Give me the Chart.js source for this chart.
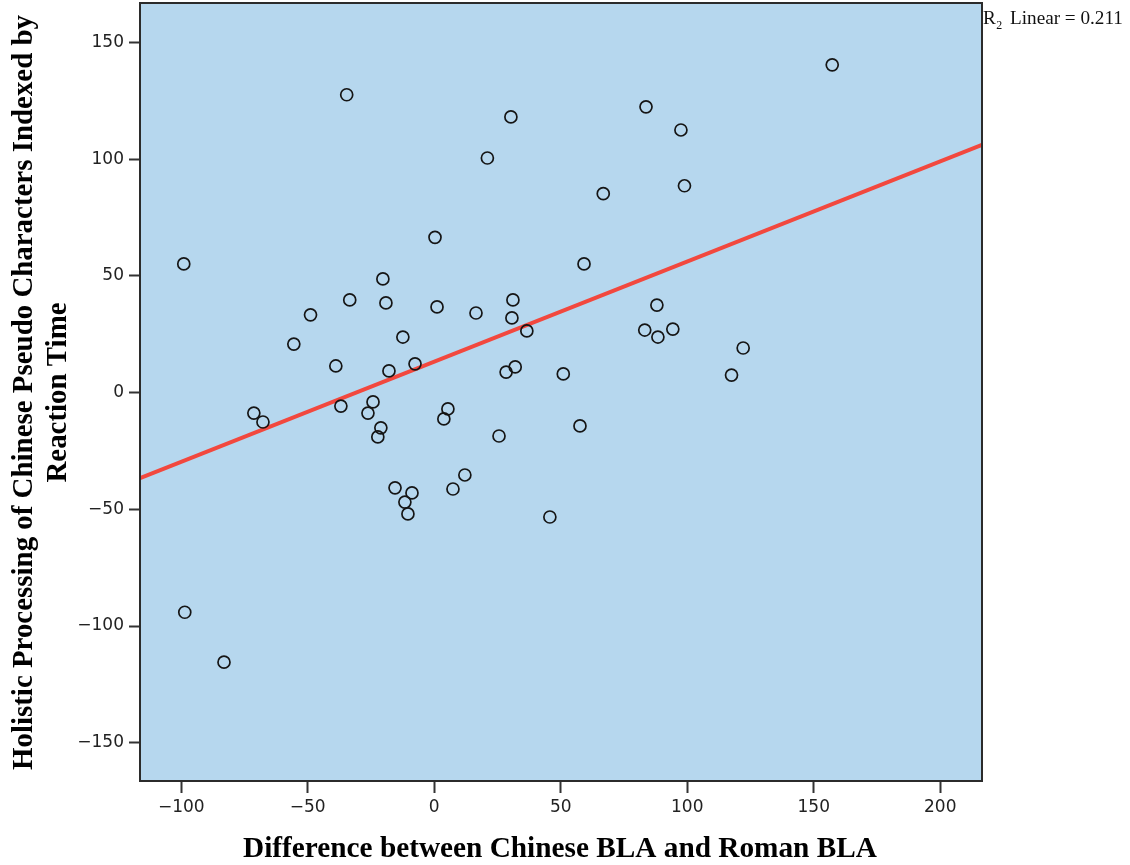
<!DOCTYPE html>
<html>
<head>
<meta charset="utf-8">
<script src="https://cdn.jsdelivr.net/npm/chart.js@4.4.1/dist/chart.umd.min.js"></script>
<style>
  html, body { margin: 0; padding: 0; background: #ffffff; }
  #wrap { width: 1130px; height: 865px; position: relative; }
  canvas { display: block; }
</style>
</head>
<body>
<div id="wrap"><canvas id="c" width="1130" height="865"></canvas></div>
<script>
// ---- Data ----
const xValues = [157.3, -34.6, 30.3, 83.7, 97.5, 21.0, 66.8, 98.9, 0.3, -99.0,
  59.2, -20.3, -33.4, -19.1, 31.1, 88.0, -48.9, 1.1, 16.5, 30.7,
  36.6, 83.2, 94.3, 88.4, -12.4, -55.5, 122.1, -38.9, -7.6, -17.9,
  32.0, 28.4, 51.0, 117.5, -36.9, -24.2, -71.3, -67.7, -26.2, 5.4,
  3.8, -21.1, -22.3, 25.6, 57.6, -15.5, -8.8, 12.1, 7.4, -11.6,
  -10.4, 45.7, -98.6, -83.1];
const yValues = [140.4, 127.6, 118.1, 122.4, 112.5, 100.5, 85.2, 88.6, 66.5, 55.1,
  55.1, 48.7, 39.7, 38.4, 39.7, 37.5, 33.3, 36.7, 34.1, 32.0,
  26.4, 26.8, 27.2, 23.8, 23.8, 20.8, 19.1, 11.4, 12.3, 9.3,
  11.0, 8.8, 8.0, 7.5, -5.8, -4.0, -8.8, -12.6, -8.8, -7.0,
  -11.3, -15.1, -19.0, -18.6, -14.3, -40.8, -43.0, -35.3, -41.3, -46.9,
  -52.0, -53.3, -94.1, -115.5];
const fitSlope = 0.429;
const fitIntercept = 13.2;
const xTicks = [-100, -50, 0, 50, 100, 150, 200];
const yTicks = [-150, -100, -50, 0, 50, 100, 150];
const xRange = [-116.3, 216.5];
const yRange = [-166.4, 166.9];
const xTitle = 'Difference between Chinese BLA and Roman BLA';
const yTitleLines = ['Holistic Processing of Chinese Pseudo Characters Indexed by', 'Reaction Time'];
const rsqLabel = '0.211';

// ---- Build datasets ----
const points = xValues.map((x, i) => ({ x: x, y: yValues[i] }));
const fitLine = xRange.map(x => ({ x: x, y: fitIntercept + fitSlope * x }));

const fmt = v => String(v).replace('-', '\u2212');
const serif = '"Liberation Serif", "Times New Roman", serif';

// draw text fitted to a target width, stretched vertically to a target cap height
function fittedText(ctx, text, cx, baseline, targetW, capH) {
  ctx.font = 'bold 100px ' + serif;
  const w = ctx.measureText(text).width;
  const fs = 100 * targetW / w;
  const sy = capH / (fs * 0.662);
  ctx.font = 'bold ' + fs.toFixed(2) + 'px ' + serif;
  ctx.save();
  ctx.translate(cx, baseline);
  ctx.scale(1, sy);
  ctx.fillText(text, 0, 0);
  ctx.restore();
  return { font: ctx.font, sy: sy };
}

const decor = {
  id: 'decor',
  beforeDraw(chart) {
    const { ctx, chartArea: a } = chart;
    ctx.save();
    ctx.fillStyle = 'rgb(182,215,238)';
    ctx.fillRect(a.left, a.top, a.right - a.left, a.bottom - a.top);
    ctx.restore();
  },
  afterDatasetsDraw(chart) {
    const { ctx, chartArea: a } = chart;
    ctx.save();
    ctx.strokeStyle = '#2b2b2b';
    ctx.lineWidth = 2;
    ctx.strokeRect(a.left, a.top, a.right - a.left, a.bottom - a.top);
    ctx.restore();
  },
  afterDraw(chart) {
    const { ctx, chartArea: a } = chart;
    ctx.save();
    ctx.fillStyle = '#000';
    ctx.textAlign = 'center';
    ctx.textBaseline = 'alphabetic';
    // X title
    fittedText(ctx, xTitle, 560, 857, 634, 20);

    // Y title (rotated)
    ctx.save();
    ctx.translate(0, 392.5);
    ctx.rotate(-Math.PI / 2);
    const r = fittedText(ctx, yTitleLines[0], 0, 32, 755, 20);
    ctx.font = r.font;
    ctx.save();
    ctx.translate(0, 66);
    ctx.scale(1, r.sy);
    ctx.fillText(yTitleLines[1], 0, 0);
    ctx.restore();
    ctx.restore();
    ctx.restore();

    // R squared annotation
    ctx.save();
    ctx.fillStyle = '#111';
    ctx.textAlign = 'left';
    ctx.textBaseline = 'alphabetic';
    ctx.font = '100px ' + serif;
    const restText = 'Linear = ' + rsqLabel;
    const fsR = 100 * 113 / ctx.measureText(restText).width;
    let x0 = a.right + 1;
    ctx.font = fsR.toFixed(2) + 'px ' + serif;
    ctx.fillText('R', x0, 24);
    x0 += ctx.measureText('R').width;
    ctx.font = (fsR * 0.62).toFixed(2) + 'px ' + serif;
    ctx.fillText('2', x0 + 0.5, 29);
    ctx.font = fsR.toFixed(2) + 'px ' + serif;
    ctx.fillText(restText, 1010, 24);
    ctx.restore();
  }
};

const tickFont = { family: '"DejaVu Sans", "Lucida Grande", sans-serif', size: 17 };

new Chart(document.getElementById('c'), {
  type: 'scatter',
  data: {
    datasets: [
      {
        type: 'line',
        data: fitLine,
        borderColor: 'rgb(242,72,62)',
        borderWidth: 4,
        pointRadius: 0,
        fill: false,
        order: 1
      },
      {
        data: points,
        pointStyle: 'circle',
        pointRadius: 6,
        pointBorderWidth: 1.7,
        borderColor: '#151515',
        backgroundColor: 'rgba(0,0,0,0)',
        order: 0
      }
    ]
  },
  options: {
    responsive: false,
    animation: false,
    devicePixelRatio: 1,
    layout: { autoPadding: false, padding: { left: 0, top: 3, right: 148, bottom: 0 } },
    plugins: { legend: { display: false }, tooltip: { enabled: false } },
    scales: {
      x: {
        type: 'linear',
        min: xRange[0],
        max: xRange[1],
        afterBuildTicks: s => { s.ticks = xTicks.map(v => ({ value: v })); },
        afterFit: s => { s.height = 84; s.paddingLeft = 0; s.paddingRight = 0; },
        grid: { drawOnChartArea: false, drawTicks: true, tickLength: 12, tickWidth: 2, tickColor: '#333', color: '#333' },
        border: { display: false },
        ticks: { font: tickFont, color: '#222', padding: 4, maxRotation: 0, callback: v => fmt(v) }
      },
      y: {
        type: 'linear',
        min: yRange[0],
        max: yRange[1],
        afterBuildTicks: s => { s.ticks = yTicks.map(v => ({ value: v })); },
        afterFit: s => { s.width = 140; s.paddingTop = 0; s.paddingBottom = 0; },
        grid: { drawOnChartArea: false, drawTicks: true, tickLength: 11, tickWidth: 2, tickColor: '#333', color: '#333' },
        border: { display: false },
        ticks: { font: tickFont, color: '#222', padding: 5, callback: v => fmt(v) }
      }
    }
  },
  plugins: [decor]
});
</script>
</body>
</html>
